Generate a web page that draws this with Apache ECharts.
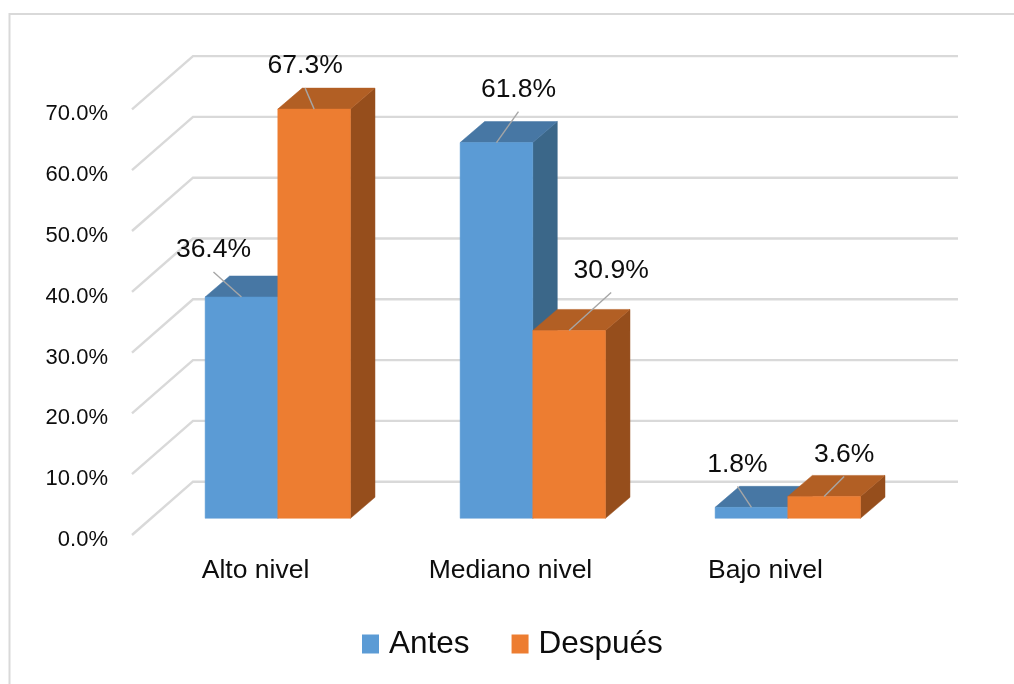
<!DOCTYPE html>
<html>
<head>
<meta charset="utf-8">
<title>Nivel antes y después</title>
<script src="https://cdn.jsdelivr.net/npm/echarts@6/dist/echarts.min.js"></script>
<style>
  html, body { margin: 0; padding: 0; background: #fff; }
  #chart { width: 1014px; height: 684px; }
</style>
</head>
<body>
<div id="chart"></div>
<script>
const categories = ['Alto nivel', 'Mediano nivel', 'Bajo nivel'];
const seriesNames = ['Antes', 'Después'];
const antes = [36.4, 61.8, 1.8];
const despues = [67.3, 30.9, 3.6];
const yTicks = [0, 10, 20, 30, 40, 50, 60, 70];

// Leader line ends, relative to the middle of each bar's front top edge
const antesLeaders = [[-28, -25], [22, -31], [-14, -21]];
const despuesLeaders = [[-9, -21], [42, -38], [20, -20]];

// Pseudo-3D projection: offsets from the front floor edge, in pixels
const PLANE = { dx: 18.3, dy: -16.7 };   // front face of the bars
const DEPTH = { dx: 24.5, dy: -21 };   // thickness of the bars
const WALL = { dx: 61, dy: -53.3 };    // back wall
const BAR_FRACTION = 0.285;
const FONT = '"Liberation Sans", Arial, sans-serif';
const TEXT = '#0d0d0d';
const GRID_LINE = '#d9d9d9';

const palette = {
  Antes: { front: '#5b9bd5', top: '#4777a4', side: '#3b6789' },
  'Después': { front: '#ed7d31', top: '#b25f24', side: '#964e1c' }
};

function renderWall(params, api) {
  const v = api.value(1);
  const band = api.size([1, 0])[0];
  const p = api.coord([0, v]);
  const x0 = p[0] - band / 2;
  return {
    type: 'polyline',
    shape: {
      points: [
        [x0, p[1]],
        [x0 + WALL.dx, p[1] + WALL.dy],
        [x0 + WALL.dx + band * categories.length, p[1] + WALL.dy]
      ]
    },
    style: { stroke: GRID_LINE, lineWidth: 2.4, fill: null }
  };
}

function barRenderer(name, side, leaders) {
  const c = palette[name];
  return function (params, api) {
    const i = api.value(0);
    const v = api.value(1);
    const w = api.size([1, 0])[0] * BAR_FRACTION;
    const top = api.coord([i, v]);
    const base = api.coord([i, 0]);
    const xl = top[0] + PLANE.dx + (side < 0 ? -w : 0);
    const xr = xl + w;
    const yt = top[1] + PLANE.dy;
    const yb = base[1] + PLANE.dy;
    const d = DEPTH;
    const poly = (points, fill) => ({
      type: 'polygon',
      shape: { points },
      style: { fill, stroke: fill, lineWidth: 0.5 }
    });
    const mid = (xl + xr) / 2;
    const off = leaders[i];
    return {
      type: 'group',
      children: [
        poly([[xr, yt], [xr + d.dx, yt + d.dy], [xr + d.dx, yb + d.dy], [xr, yb]], c.side),
        poly([[xl, yt], [xl + d.dx, yt + d.dy], [xr + d.dx, yt + d.dy], [xr, yt]], c.top),
        poly([[xl, yt], [xr, yt], [xr, yb], [xl, yb]], c.front),
        {
          type: 'line',
          shape: { x1: mid, y1: yt, x2: mid + off[0], y2: yt + off[1] },
          style: { stroke: '#a6a6a6', lineWidth: 1.4 }
        },
        {
          type: 'text',
          style: {
            text: v.toFixed(1) + '%',
            x: mid + off[0],
            y: yt + off[1] - 22,
            align: 'center',
            verticalAlign: 'middle',
            font: '26.5px ' + FONT,
            fill: TEXT
          }
        }
      ]
    };
  };
}

const chart = echarts.init(document.getElementById('chart'), null, { renderer: 'canvas' });
chart.setOption({
  animation: false,
  backgroundColor: '#ffffff',
  grid: { left: 132, width: 765, top: 109.4, height: 425.6 },
  xAxis: {
    type: 'category',
    data: categories,
    axisLine: { show: false },
    axisTick: { show: false },
    splitLine: { show: false },
    axisLabel: {
      interval: 0,
      margin: 22,
      padding: [0, 8, 0, 0],
      fontFamily: FONT,
      fontSize: 26.5,
      color: TEXT
    }
  },
  yAxis: {
    type: 'value',
    min: 0,
    max: 70,
    interval: 10,
    axisLine: { show: false },
    axisTick: { show: false },
    splitLine: { show: false },
    axisLabel: {
      margin: 24,
      verticalAlign: 'top',
      lineHeight: 10,
      fontFamily: FONT,
      fontSize: 22,
      color: TEXT,
      formatter: (v) => v.toFixed(1) + '%'
    }
  },
  legend: {
    data: seriesNames.map((name) => ({ name, icon: 'rect' })),
    left: 357,
    top: 623,
    itemWidth: 17,
    itemHeight: 19,
    itemGap: 42,
    textStyle: { fontFamily: FONT, fontSize: 31.5, color: TEXT, padding: [0, 0, 0, 5] }
  },
  graphic: [{
    type: 'polyline',
    silent: true,
    shape: { points: [[9.5, 684], [9.5, 14], [1014, 14]] },
    style: { stroke: GRID_LINE, lineWidth: 2, fill: null }
  }],
  series: [
    {
      type: 'custom',
      silent: true,
      clip: false,
      z: 1,
      renderItem: renderWall,
      data: yTicks.map((t) => [0, t])
    },
    {
      name: seriesNames[0],
      type: 'custom',
      clip: false,
      z: 2,
      itemStyle: { color: palette.Antes.front },
      renderItem: barRenderer('Antes', -1, antesLeaders),
      data: antes.map((v, i) => [i, v])
    },
    {
      name: seriesNames[1],
      type: 'custom',
      clip: false,
      z: 3,
      itemStyle: { color: palette['Después'].front },
      renderItem: barRenderer('Después', 1, despuesLeaders),
      data: despues.map((v, i) => [i, v])
    }
  ]
});
</script>
</body>
</html>
